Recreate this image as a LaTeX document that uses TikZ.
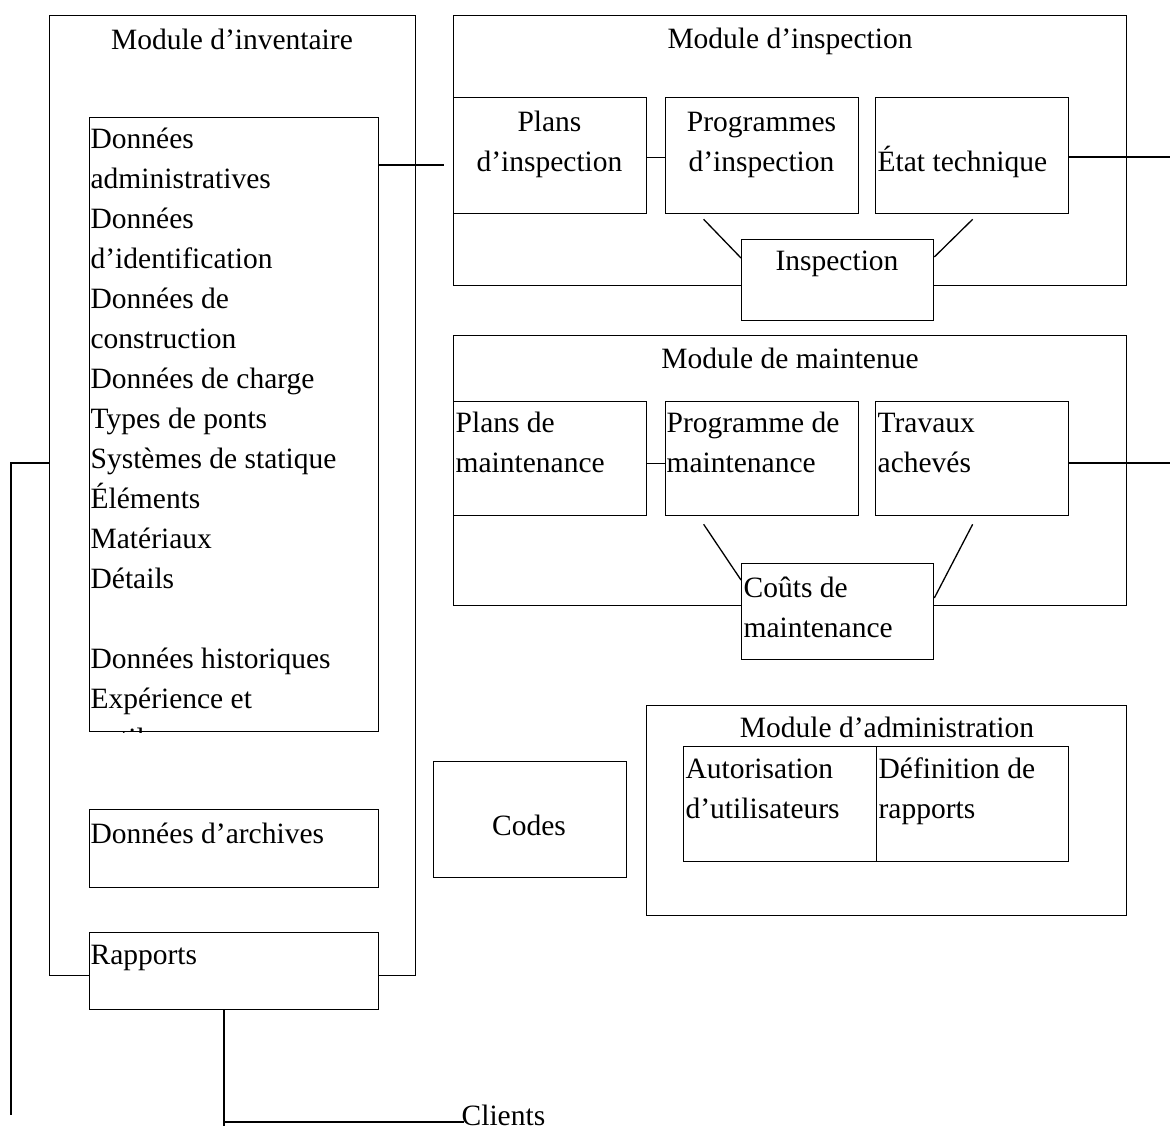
\documentclass[tikz,border=0pt]{standalone}
\usepackage{fontspec}
\setmainfont{Liberation Serif}
\usetikzlibrary{calc}
\begin{document}
\begin{tikzpicture}[x=1pt,y=-1pt,line width=1.3pt,
  box/.style={draw,fill=white,inner sep=0pt,anchor=north west},
  txt/.style={inner sep=0pt,font=\fontsize{29.5}{40}\selectfont},
  tl/.style={txt,anchor=base west},
  tc/.style={txt,anchor=base}]
\useasboundingbox (0,0) rectangle (1170,1136);
% ---------- inventory module ----------
\node[box,minimum width=366pt,minimum height=960pt] (inv) at (49,15) {};
\node[tc] (invt) at (232,49) {Module d’inventaire};
\node[box,minimum width=289pt,minimum height=614pt] (invdata) at (89,117) {};
\begin{scope}
\clip (invdata.north west) rectangle (invdata.south east);
\foreach \t/\yy [count=\i] in {Données/148, administratives/188, Données/228,
  d’identification/268, Données de/308, construction/348, Données de charge/388,
  Types de ponts/428, Systèmes de statique/468, Éléments/508, Matériaux/548,
  Détails/588, Données historiques/668, Expérience et/708, outils/748}
  \node[tl] (invl\i) at (90,\yy) {\t};
\end{scope}
\node[box,minimum width=289pt,minimum height=78pt] (archives) at (89,809) {};
\node[tl] (archt) at (90,843) {Données d’archives};
\node[box,minimum width=289pt,minimum height=77pt] (rapports) at (89,932) {};
\node[tl] (rapt) at (90,964) {Rapports};
% ---------- inspection module ----------
\node[box,minimum width=673pt,minimum height=270pt] (insp) at (453,15) {};
\node[tc] (inspt) at (790,48) {Module d’inspection};
\node[box,minimum width=193pt,minimum height=116pt] (planI) at (453,97) {};
\node[tc] (planIa) at (549.5,131) {Plans};
\node[tc] (planIb) at (549.5,171) {d’inspection};
\node[box,minimum width=193pt,minimum height=116pt] (progI) at (665,97) {};
\node[tc] (progIa) at (761.5,131) {Programmes};
\node[tc] (progIb) at (761.5,171) {d’inspection};
\node[box,minimum width=193pt,minimum height=116pt] (etat) at (875,97) {};
\node[tl] (etatt) at (877,171) {État technique};
\node[box,minimum width=192pt,minimum height=81pt] (inspection) at (741,239) {};
\node[tc] (inspectiont) at (837,270) {Inspection};
% ---------- maintenance module ----------
\node[box,minimum width=673pt,minimum height=270pt] (maint) at (453,335) {};
\node[tc] (maintt) at (790,368) {Module de maintenue};
\node[box,minimum width=193pt,minimum height=114pt] (planM) at (453,401) {};
\node[tl] (planMa) at (455,432) {Plans de};
\node[tl] (planMb) at (455,472) {maintenance};
\node[box,minimum width=193pt,minimum height=114pt] (progM) at (665,401) {};
\node[tl] (progMa) at (666,432) {Programme de};
\node[tl] (progMb) at (666,472) {maintenance};
\node[box,minimum width=193pt,minimum height=114pt] (trav) at (875,401) {};
\node[tl] (trava) at (877,432) {Travaux};
\node[tl] (travb) at (877,472) {achevés};
\node[box,minimum width=192pt,minimum height=96pt] (couts) at (741,563) {};
\node[tl] (coutsa) at (743,597) {Coûts de};
\node[tl] (coutsb) at (743,637) {maintenance};
% ---------- administration module ----------
\node[box,minimum width=480pt,minimum height=210pt] (admin) at (646,705) {};
\node[tc] (admint) at (887,737) {Module d’administration};
\node[box,minimum width=193pt,minimum height=115pt] (autor) at (683,746) {};
\node[tl] (autora) at (685,778) {Autorisation};
\node[tl] (autorb) at (685,818) {d’utilisateurs};
\node[box,minimum width=192pt,minimum height=115pt] (defin) at (876,746) {};
\node[tl] (defina) at (878,778) {Définition de};
\node[tl] (definb) at (878,818) {rapports};
% ---------- codes ----------
\node[box,minimum width=193pt,minimum height=116pt] (codes) at (433,761) {};
\node[tc] (codest) at (529,835) {Codes};
% ---------- clients ----------
\node[tl] (clients) at (461,1125) {Clients};
% ---------- connectors ----------
\coordinate (c1) at (444,165);
\draw (c1 -| invdata.east) -- (c1);
\draw ($(planI.east)+(0,2)$) -- ($(progI.west)+(0,2)$);
\coordinate (e1) at (1170,157);
\draw (e1 -| etat.east) -- (e1);
\draw ($(progI.south)+(-58.5,5)$) -- ($(inspection.north west)+(0,19)$);
\draw ($(etat.south)+(0.5,5)$) -- ($(inspection.north east)+(0,18)$);
\draw ($(planM.east)+(0,5)$) -- ($(progM.west)+(0,5)$);
\coordinate (e2) at (1170,463);
\draw (e2 -| trav.east) -- (e2);
\draw ($(progM.south)+(-58.5,8)$) -- ($(couts.north west)+(0,17)$);
\draw ($(trav.south)+(0.5,8)$) -- ($(couts.north east)+(0,35)$);
\coordinate (lt) at (11,463);
\coordinate (lb) at (11,1115);
\draw (lt -| inv.west) -- (lt) -- (lb);
\coordinate (rk) at (224,1126);
\draw (rk |- rapports.south) -- (rk);
\coordinate (rh) at (224,1122);
\draw (rh) -- ($(rh -| clients.west)+(3,0)$);
\end{tikzpicture}
\end{document}
